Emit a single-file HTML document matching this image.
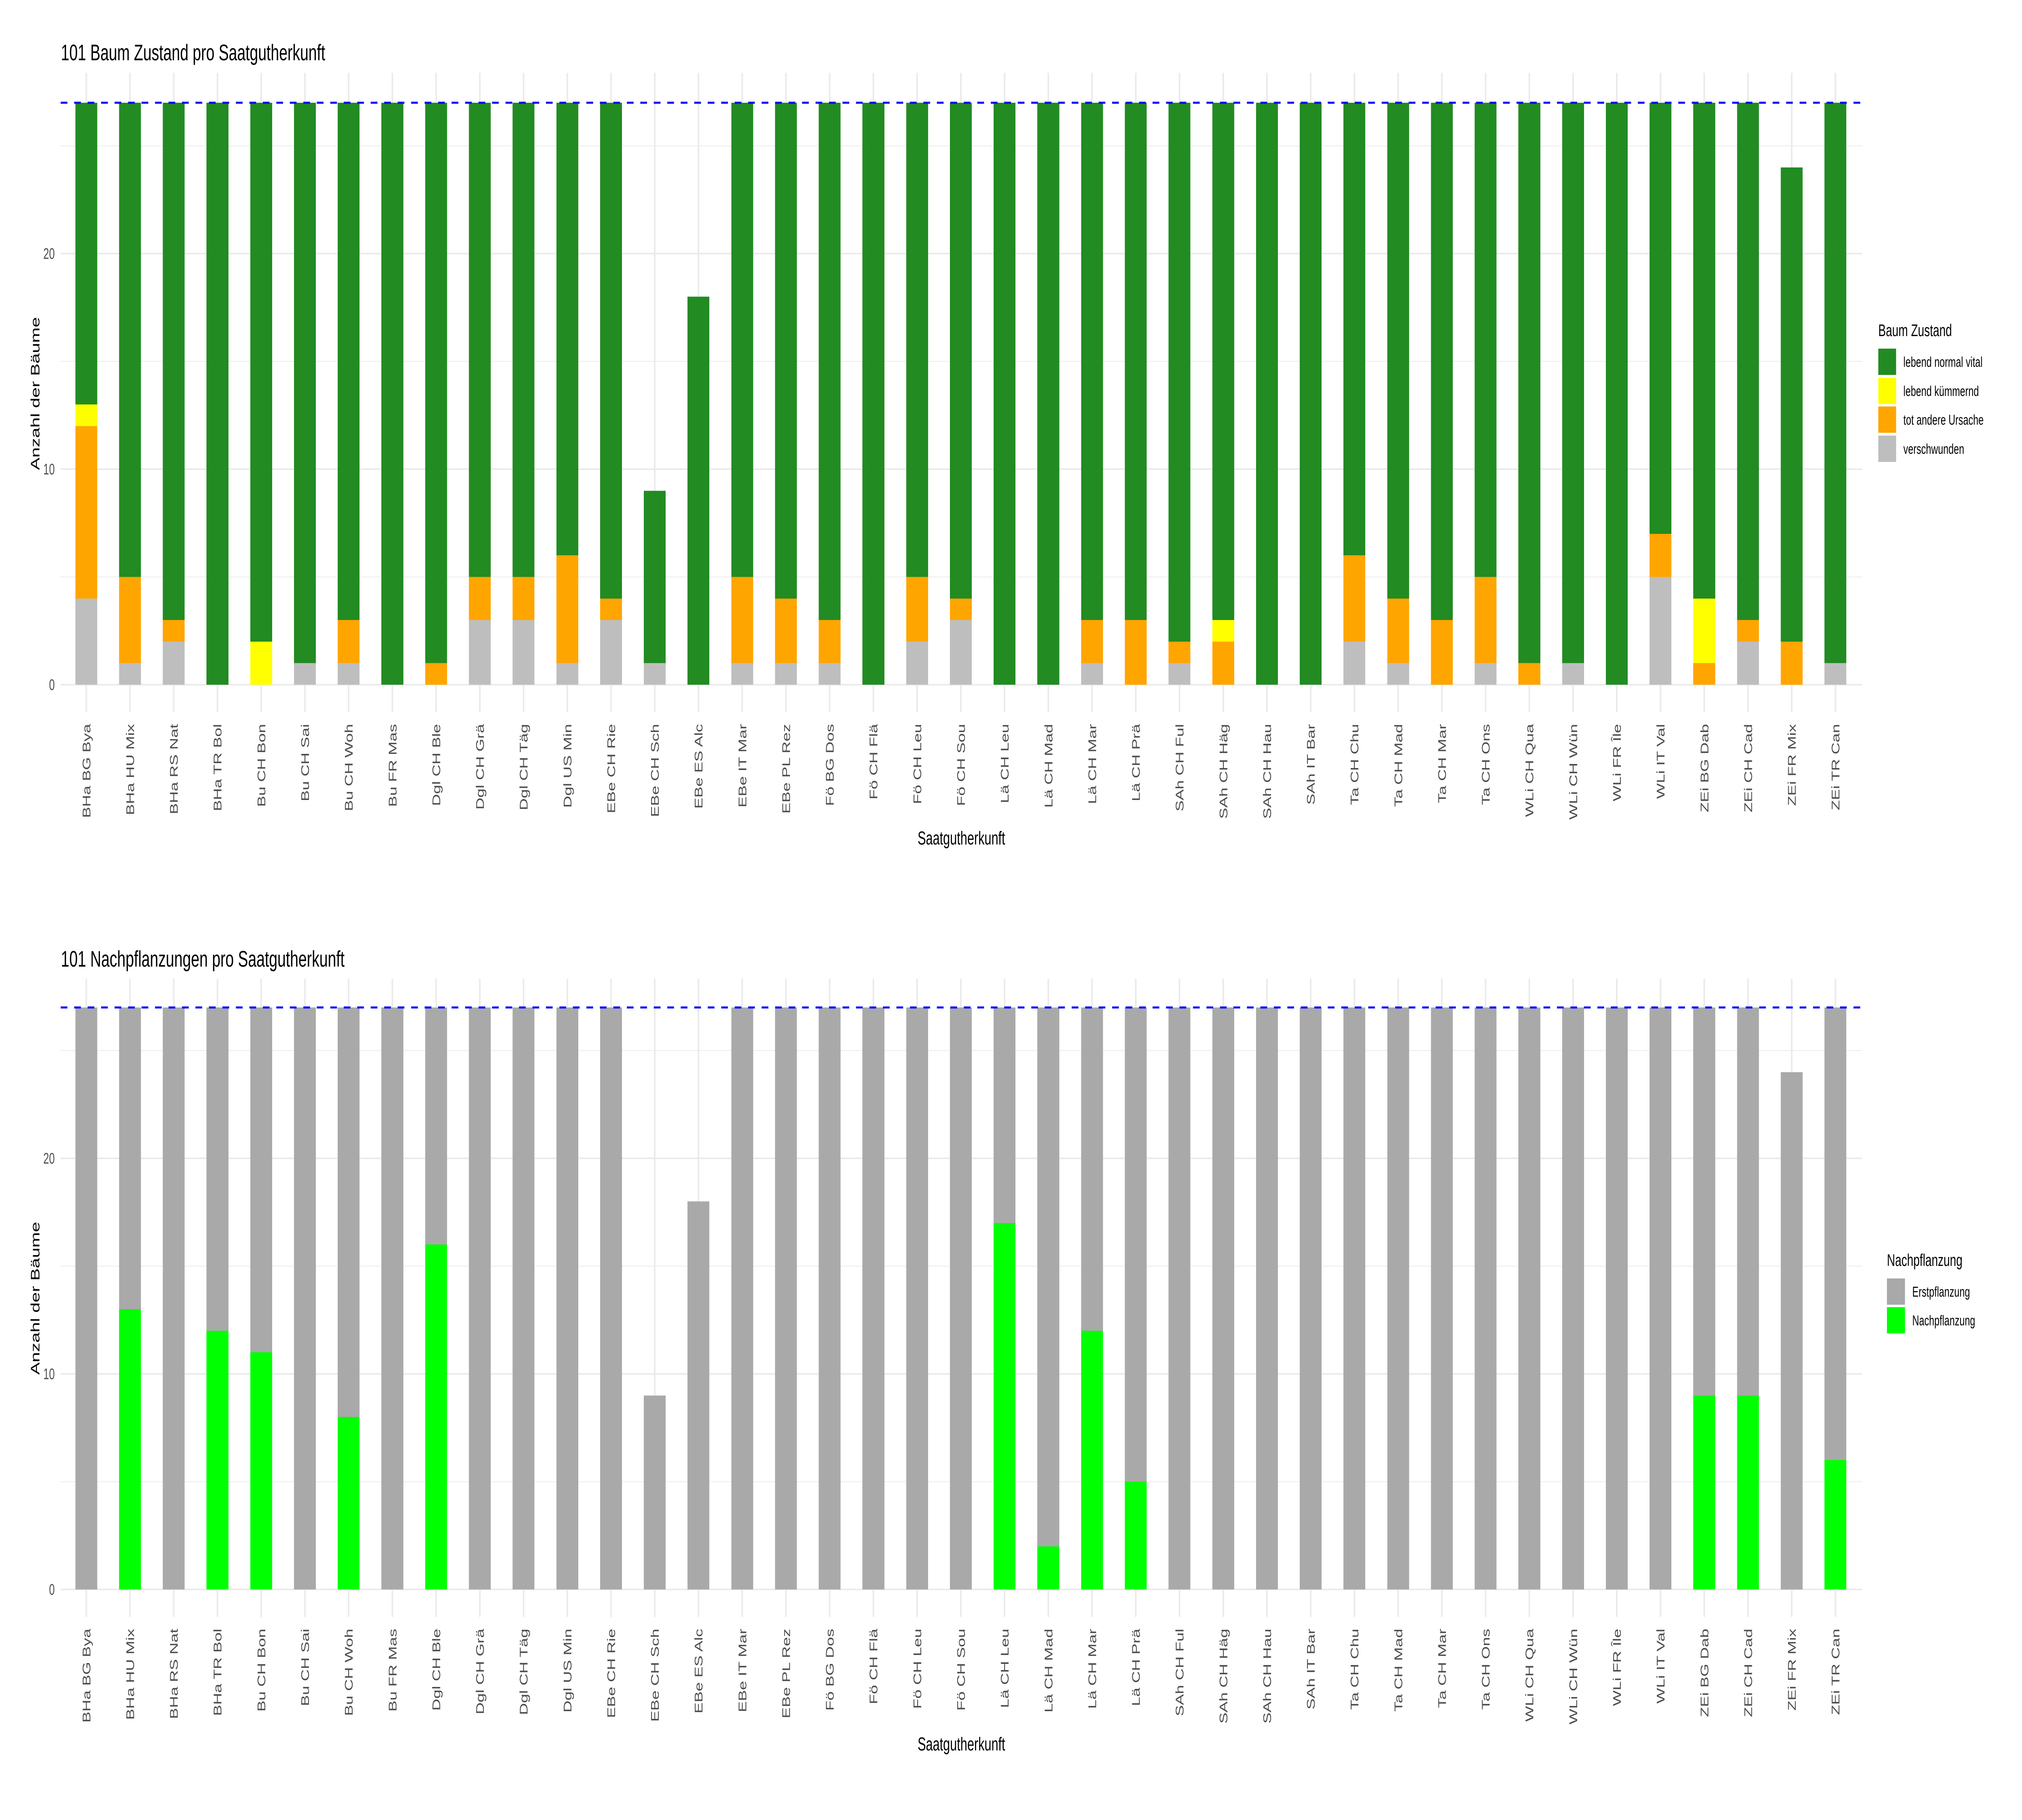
<!DOCTYPE html>
<html><head><meta charset="utf-8"><style>
html,body{margin:0;padding:0;background:#fff;width:100%;height:100%;overflow:hidden;}
svg{display:block;width:100vw;height:100vh;font-family:"Liberation Sans",Arial,sans-serif;}
.xl{font-size:41px;fill:#4d4d4d;}
.yl{font-size:38px;fill:#4d4d4d;}
</style></head><body>
<svg viewBox="0 0 7500 4500" preserveAspectRatio="none" xmlns="http://www.w3.org/2000/svg">
<rect width="7500" height="4500" fill="#fff"/>

<!-- ================= TOP CHART ================= -->
<text x="226" y="149" font-size="56" fill="#000">101 Baum Zustand pro Saatgutherkunft</text>
<g stroke="#ebebeb">
<line x1="225" x2="6907" y1="1426.5" y2="1426.5" stroke-width="2"/>
<line x1="225" x2="6907" y1="893.5" y2="893.5" stroke-width="2"/>
<line x1="225" x2="6907" y1="360.5" y2="360.5" stroke-width="2"/>
<line x1="225" x2="6907" y1="1693" y2="1693" stroke-width="4"/>
<line x1="225" x2="6907" y1="1160" y2="1160" stroke-width="4"/>
<line x1="225" x2="6907" y1="627" y2="627" stroke-width="4"/>
</g>
<g transform="translate(320,0) scale(162.2,1)">
<path d="M0 180V1761M1 180V1761M2 180V1761M3 180V1761M4 180V1761M5 180V1761M6 180V1761M7 180V1761M8 180V1761M9 180V1761M10 180V1761M11 180V1761M12 180V1761M13 180V1761M14 180V1761M15 180V1761M16 180V1761M17 180V1761M18 180V1761M19 180V1761M20 180V1761M21 180V1761M22 180V1761M23 180V1761M24 180V1761M25 180V1761M26 180V1761M27 180V1761M28 180V1761M29 180V1761M30 180V1761M31 180V1761M32 180V1761M33 180V1761M34 180V1761M35 180V1761M36 180V1761M37 180V1761M38 180V1761M39 180V1761M40 180V1761" stroke="#ebebeb" stroke-width="4" vector-effect="non-scaling-stroke" fill="none"/>
</g>
<g transform="translate(320,1693) scale(162.2,-53.3)" shape-rendering="crispEdges">
<g fill="#228B22">
<rect x="-0.25" y="0" width="0.5" height="27"/><rect x="0.75" y="0" width="0.5" height="27"/><rect x="1.75" y="0" width="0.5" height="27"/><rect x="2.75" y="0" width="0.5" height="27"/><rect x="3.75" y="0" width="0.5" height="27"/><rect x="4.75" y="0" width="0.5" height="27"/><rect x="5.75" y="0" width="0.5" height="27"/><rect x="6.75" y="0" width="0.5" height="27"/><rect x="7.75" y="0" width="0.5" height="27"/><rect x="8.75" y="0" width="0.5" height="27"/><rect x="9.75" y="0" width="0.5" height="27"/><rect x="10.75" y="0" width="0.5" height="27"/><rect x="11.75" y="0" width="0.5" height="27"/><rect x="12.75" y="0" width="0.5" height="9"/><rect x="13.75" y="0" width="0.5" height="18"/><rect x="14.75" y="0" width="0.5" height="27"/><rect x="15.75" y="0" width="0.5" height="27"/><rect x="16.75" y="0" width="0.5" height="27"/><rect x="17.75" y="0" width="0.5" height="27"/><rect x="18.75" y="0" width="0.5" height="27"/><rect x="19.75" y="0" width="0.5" height="27"/><rect x="20.75" y="0" width="0.5" height="27"/><rect x="21.75" y="0" width="0.5" height="27"/><rect x="22.75" y="0" width="0.5" height="27"/><rect x="23.75" y="0" width="0.5" height="27"/><rect x="24.75" y="0" width="0.5" height="27"/><rect x="25.75" y="0" width="0.5" height="27"/><rect x="26.75" y="0" width="0.5" height="27"/><rect x="27.75" y="0" width="0.5" height="27"/><rect x="28.75" y="0" width="0.5" height="27"/><rect x="29.75" y="0" width="0.5" height="27"/><rect x="30.75" y="0" width="0.5" height="27"/><rect x="31.75" y="0" width="0.5" height="27"/><rect x="32.75" y="0" width="0.5" height="27"/><rect x="33.75" y="0" width="0.5" height="27"/><rect x="34.75" y="0" width="0.5" height="27"/><rect x="35.75" y="0" width="0.5" height="27"/><rect x="36.75" y="0" width="0.5" height="27"/><rect x="37.75" y="0" width="0.5" height="27"/><rect x="38.75" y="0" width="0.5" height="24"/><rect x="39.75" y="0" width="0.5" height="27"/>
</g>
<g fill="#FFFF00">
<rect x="-0.25" y="12" width="0.5" height="1"/><rect x="3.75" y="0" width="0.5" height="2"/><rect x="25.75" y="2" width="0.5" height="1"/><rect x="36.75" y="1" width="0.5" height="3"/>
</g>
<g fill="#FFA500">
<rect x="-0.25" y="4" width="0.5" height="8"/><rect x="0.75" y="1" width="0.5" height="4"/><rect x="1.75" y="2" width="0.5" height="1"/><rect x="5.75" y="1" width="0.5" height="2"/><rect x="7.75" y="0" width="0.5" height="1"/><rect x="8.75" y="3" width="0.5" height="2"/><rect x="9.75" y="3" width="0.5" height="2"/><rect x="10.75" y="1" width="0.5" height="5"/><rect x="11.75" y="3" width="0.5" height="1"/><rect x="14.75" y="1" width="0.5" height="4"/><rect x="15.75" y="1" width="0.5" height="3"/><rect x="16.75" y="1" width="0.5" height="2"/><rect x="18.75" y="2" width="0.5" height="3"/><rect x="19.75" y="3" width="0.5" height="1"/><rect x="22.75" y="1" width="0.5" height="2"/><rect x="23.75" y="0" width="0.5" height="3"/><rect x="24.75" y="1" width="0.5" height="1"/><rect x="25.75" y="0" width="0.5" height="2"/><rect x="28.75" y="2" width="0.5" height="4"/><rect x="29.75" y="1" width="0.5" height="3"/><rect x="30.75" y="0" width="0.5" height="3"/><rect x="31.75" y="1" width="0.5" height="4"/><rect x="32.75" y="0" width="0.5" height="1"/><rect x="35.75" y="5" width="0.5" height="2"/><rect x="36.75" y="0" width="0.5" height="1"/><rect x="37.75" y="2" width="0.5" height="1"/><rect x="38.75" y="0" width="0.5" height="2"/>
</g>
<g fill="#BEBEBE">
<rect x="-0.25" y="0" width="0.5" height="4"/><rect x="0.75" y="0" width="0.5" height="1"/><rect x="1.75" y="0" width="0.5" height="2"/><rect x="4.75" y="0" width="0.5" height="1"/><rect x="5.75" y="0" width="0.5" height="1"/><rect x="8.75" y="0" width="0.5" height="3"/><rect x="9.75" y="0" width="0.5" height="3"/><rect x="10.75" y="0" width="0.5" height="1"/><rect x="11.75" y="0" width="0.5" height="3"/><rect x="12.75" y="0" width="0.5" height="1"/><rect x="14.75" y="0" width="0.5" height="1"/><rect x="15.75" y="0" width="0.5" height="1"/><rect x="16.75" y="0" width="0.5" height="1"/><rect x="18.75" y="0" width="0.5" height="2"/><rect x="19.75" y="0" width="0.5" height="3"/><rect x="22.75" y="0" width="0.5" height="1"/><rect x="24.75" y="0" width="0.5" height="1"/><rect x="28.75" y="0" width="0.5" height="2"/><rect x="29.75" y="0" width="0.5" height="1"/><rect x="31.75" y="0" width="0.5" height="1"/><rect x="33.75" y="0" width="0.5" height="1"/><rect x="35.75" y="0" width="0.5" height="5"/><rect x="37.75" y="0" width="0.5" height="2"/><rect x="39.75" y="0" width="0.5" height="1"/>
</g>
</g>
<line x1="225" x2="6907" y1="254" y2="254" stroke="#0000FF" stroke-width="5" stroke-dasharray="25 25"/>
<g class="yl" text-anchor="end">
<text x="203" y="1706">0</text><text x="203" y="1173">10</text><text x="203" y="640">20</text>
</g>
<text transform="translate(130,973) rotate(-90)" text-anchor="middle" dy="0.35em" font-size="46" fill="#000">Anzahl der Bäume</text>
<text x="3566" y="2088" text-anchor="middle" font-size="46" fill="#000">Saatgutherkunft</text>
<g class="xl" text-anchor="end">
<text transform="translate(335,1790) rotate(-90)">BHa BG Bya</text>
<text transform="translate(497.2,1790) rotate(-90)">BHa HU Mix</text>
<text transform="translate(659.4,1790) rotate(-90)">BHa RS Nat</text>
<text transform="translate(821.6,1790) rotate(-90)">BHa TR Bol</text>
<text transform="translate(983.8,1790) rotate(-90)">Bu CH Bon</text>
<text transform="translate(1146,1790) rotate(-90)">Bu CH Sai</text>
<text transform="translate(1308.2,1790) rotate(-90)">Bu CH Woh</text>
<text transform="translate(1470.4,1790) rotate(-90)">Bu FR Mas</text>
<text transform="translate(1632.6,1790) rotate(-90)">Dgl CH Ble</text>
<text transform="translate(1794.8,1790) rotate(-90)">Dgl CH Grä</text>
<text transform="translate(1957,1790) rotate(-90)">Dgl CH Täg</text>
<text transform="translate(2119.2,1790) rotate(-90)">Dgl US Min</text>
<text transform="translate(2281.4,1790) rotate(-90)">EBe CH Rie</text>
<text transform="translate(2443.6,1790) rotate(-90)">EBe CH Sch</text>
<text transform="translate(2605.8,1790) rotate(-90)">EBe ES Alc</text>
<text transform="translate(2768,1790) rotate(-90)">EBe IT Mar</text>
<text transform="translate(2930.2,1790) rotate(-90)">EBe PL Rez</text>
<text transform="translate(3092.4,1790) rotate(-90)">Fö BG Dos</text>
<text transform="translate(3254.6,1790) rotate(-90)">Fö CH Flä</text>
<text transform="translate(3416.8,1790) rotate(-90)">Fö CH Leu</text>
<text transform="translate(3579,1790) rotate(-90)">Fö CH Sou</text>
<text transform="translate(3741.2,1790) rotate(-90)">Lä CH Leu</text>
<text transform="translate(3903.4,1790) rotate(-90)">Lä CH Mad</text>
<text transform="translate(4065.6,1790) rotate(-90)">Lä CH Mar</text>
<text transform="translate(4227.8,1790) rotate(-90)">Lä CH Prä</text>
<text transform="translate(4390,1790) rotate(-90)">SAh CH Ful</text>
<text transform="translate(4552.2,1790) rotate(-90)">SAh CH Häg</text>
<text transform="translate(4714.4,1790) rotate(-90)">SAh CH Hau</text>
<text transform="translate(4876.6,1790) rotate(-90)">SAh IT Bar</text>
<text transform="translate(5038.8,1790) rotate(-90)">Ta CH Chu</text>
<text transform="translate(5201,1790) rotate(-90)">Ta CH Mad</text>
<text transform="translate(5363.2,1790) rotate(-90)">Ta CH Mar</text>
<text transform="translate(5525.4,1790) rotate(-90)">Ta CH Ons</text>
<text transform="translate(5687.6,1790) rotate(-90)">WLi CH Qua</text>
<text transform="translate(5849.8,1790) rotate(-90)">WLi CH Wün</text>
<text transform="translate(6012,1790) rotate(-90)">WLi FR Île</text>
<text transform="translate(6174.2,1790) rotate(-90)">WLi IT Val</text>
<text transform="translate(6336.4,1790) rotate(-90)">ZEi BG Dab</text>
<text transform="translate(6498.6,1790) rotate(-90)">ZEi CH Cad</text>
<text transform="translate(6660.8,1790) rotate(-90)">ZEi FR Mix</text>
<text transform="translate(6823,1790) rotate(-90)">ZEi TR Can</text>
</g>
<text x="6967" y="831" font-size="42" fill="#000">Baum Zustand</text>
<rect x="6967" y="862" width="66" height="65" fill="#228B22"/>
<rect x="6967" y="934" width="66" height="65" fill="#FFFF00"/>
<rect x="6967" y="1005" width="66" height="65" fill="#FFA500"/>
<rect x="6967" y="1077" width="66" height="65" fill="#BEBEBE"/>
<g font-size="35" fill="#000">
<text x="7060" y="907">lebend normal vital</text>
<text x="7060" y="979">lebend kümmernd</text>
<text x="7060" y="1050">tot andere Ursache</text>
<text x="7060" y="1122">verschwunden</text>
</g>

<!-- ================= BOTTOM CHART ================= -->
<text x="226" y="2390" font-size="56" fill="#000">101 Nachpflanzungen pro Saatgutherkunft</text>
<g stroke="#ebebeb">
<line x1="225" x2="6907" y1="3663.5" y2="3663.5" stroke-width="2"/>
<line x1="225" x2="6907" y1="3130.5" y2="3130.5" stroke-width="2"/>
<line x1="225" x2="6907" y1="2597.5" y2="2597.5" stroke-width="2"/>
<line x1="225" x2="6907" y1="3930" y2="3930" stroke-width="4"/>
<line x1="225" x2="6907" y1="3397" y2="3397" stroke-width="4"/>
<line x1="225" x2="6907" y1="2864" y2="2864" stroke-width="4"/>
</g>
<g transform="translate(320,0) scale(162.2,1)">
<path d="M0 2420V3998M1 2420V3998M2 2420V3998M3 2420V3998M4 2420V3998M5 2420V3998M6 2420V3998M7 2420V3998M8 2420V3998M9 2420V3998M10 2420V3998M11 2420V3998M12 2420V3998M13 2420V3998M14 2420V3998M15 2420V3998M16 2420V3998M17 2420V3998M18 2420V3998M19 2420V3998M20 2420V3998M21 2420V3998M22 2420V3998M23 2420V3998M24 2420V3998M25 2420V3998M26 2420V3998M27 2420V3998M28 2420V3998M29 2420V3998M30 2420V3998M31 2420V3998M32 2420V3998M33 2420V3998M34 2420V3998M35 2420V3998M36 2420V3998M37 2420V3998M38 2420V3998M39 2420V3998M40 2420V3998" stroke="#ebebeb" stroke-width="4" vector-effect="non-scaling-stroke" fill="none"/>
</g>
<g transform="translate(320,3930) scale(162.2,-53.3)" shape-rendering="crispEdges">
<g fill="#A9A9A9">
<rect x="-0.25" y="0" width="0.5" height="27"/><rect x="0.75" y="0" width="0.5" height="27"/><rect x="1.75" y="0" width="0.5" height="27"/><rect x="2.75" y="0" width="0.5" height="27"/><rect x="3.75" y="0" width="0.5" height="27"/><rect x="4.75" y="0" width="0.5" height="27"/><rect x="5.75" y="0" width="0.5" height="27"/><rect x="6.75" y="0" width="0.5" height="27"/><rect x="7.75" y="0" width="0.5" height="27"/><rect x="8.75" y="0" width="0.5" height="27"/><rect x="9.75" y="0" width="0.5" height="27"/><rect x="10.75" y="0" width="0.5" height="27"/><rect x="11.75" y="0" width="0.5" height="27"/><rect x="12.75" y="0" width="0.5" height="9"/><rect x="13.75" y="0" width="0.5" height="18"/><rect x="14.75" y="0" width="0.5" height="27"/><rect x="15.75" y="0" width="0.5" height="27"/><rect x="16.75" y="0" width="0.5" height="27"/><rect x="17.75" y="0" width="0.5" height="27"/><rect x="18.75" y="0" width="0.5" height="27"/><rect x="19.75" y="0" width="0.5" height="27"/><rect x="20.75" y="0" width="0.5" height="27"/><rect x="21.75" y="0" width="0.5" height="27"/><rect x="22.75" y="0" width="0.5" height="27"/><rect x="23.75" y="0" width="0.5" height="27"/><rect x="24.75" y="0" width="0.5" height="27"/><rect x="25.75" y="0" width="0.5" height="27"/><rect x="26.75" y="0" width="0.5" height="27"/><rect x="27.75" y="0" width="0.5" height="27"/><rect x="28.75" y="0" width="0.5" height="27"/><rect x="29.75" y="0" width="0.5" height="27"/><rect x="30.75" y="0" width="0.5" height="27"/><rect x="31.75" y="0" width="0.5" height="27"/><rect x="32.75" y="0" width="0.5" height="27"/><rect x="33.75" y="0" width="0.5" height="27"/><rect x="34.75" y="0" width="0.5" height="27"/><rect x="35.75" y="0" width="0.5" height="27"/><rect x="36.75" y="0" width="0.5" height="27"/><rect x="37.75" y="0" width="0.5" height="27"/><rect x="38.75" y="0" width="0.5" height="24"/><rect x="39.75" y="0" width="0.5" height="27"/>
</g>
<g fill="#00FF00">
<rect x="0.75" y="0" width="0.5" height="13"/><rect x="2.75" y="0" width="0.5" height="12"/><rect x="3.75" y="0" width="0.5" height="11"/><rect x="5.75" y="0" width="0.5" height="8"/><rect x="7.75" y="0" width="0.5" height="16"/><rect x="20.75" y="0" width="0.5" height="17"/><rect x="21.75" y="0" width="0.5" height="2"/><rect x="22.75" y="0" width="0.5" height="12"/><rect x="23.75" y="0" width="0.5" height="5"/><rect x="36.75" y="0" width="0.5" height="9"/><rect x="37.75" y="0" width="0.5" height="9"/><rect x="39.75" y="0" width="0.5" height="6"/>
</g>
</g>
<line x1="225" x2="6907" y1="2491" y2="2491" stroke="#0000FF" stroke-width="5" stroke-dasharray="25 25"/>
<g class="yl" text-anchor="end">
<text x="203" y="3943">0</text><text x="203" y="3410">10</text><text x="203" y="2877">20</text>
</g>
<text transform="translate(130,3210) rotate(-90)" text-anchor="middle" dy="0.35em" font-size="46" fill="#000">Anzahl der Bäume</text>
<text x="3566" y="4328" text-anchor="middle" font-size="46" fill="#000">Saatgutherkunft</text>
<g class="xl" text-anchor="end">
<text transform="translate(335,4027) rotate(-90)">BHa BG Bya</text>
<text transform="translate(497.2,4027) rotate(-90)">BHa HU Mix</text>
<text transform="translate(659.4,4027) rotate(-90)">BHa RS Nat</text>
<text transform="translate(821.6,4027) rotate(-90)">BHa TR Bol</text>
<text transform="translate(983.8,4027) rotate(-90)">Bu CH Bon</text>
<text transform="translate(1146,4027) rotate(-90)">Bu CH Sai</text>
<text transform="translate(1308.2,4027) rotate(-90)">Bu CH Woh</text>
<text transform="translate(1470.4,4027) rotate(-90)">Bu FR Mas</text>
<text transform="translate(1632.6,4027) rotate(-90)">Dgl CH Ble</text>
<text transform="translate(1794.8,4027) rotate(-90)">Dgl CH Grä</text>
<text transform="translate(1957,4027) rotate(-90)">Dgl CH Täg</text>
<text transform="translate(2119.2,4027) rotate(-90)">Dgl US Min</text>
<text transform="translate(2281.4,4027) rotate(-90)">EBe CH Rie</text>
<text transform="translate(2443.6,4027) rotate(-90)">EBe CH Sch</text>
<text transform="translate(2605.8,4027) rotate(-90)">EBe ES Alc</text>
<text transform="translate(2768,4027) rotate(-90)">EBe IT Mar</text>
<text transform="translate(2930.2,4027) rotate(-90)">EBe PL Rez</text>
<text transform="translate(3092.4,4027) rotate(-90)">Fö BG Dos</text>
<text transform="translate(3254.6,4027) rotate(-90)">Fö CH Flä</text>
<text transform="translate(3416.8,4027) rotate(-90)">Fö CH Leu</text>
<text transform="translate(3579,4027) rotate(-90)">Fö CH Sou</text>
<text transform="translate(3741.2,4027) rotate(-90)">Lä CH Leu</text>
<text transform="translate(3903.4,4027) rotate(-90)">Lä CH Mad</text>
<text transform="translate(4065.6,4027) rotate(-90)">Lä CH Mar</text>
<text transform="translate(4227.8,4027) rotate(-90)">Lä CH Prä</text>
<text transform="translate(4390,4027) rotate(-90)">SAh CH Ful</text>
<text transform="translate(4552.2,4027) rotate(-90)">SAh CH Häg</text>
<text transform="translate(4714.4,4027) rotate(-90)">SAh CH Hau</text>
<text transform="translate(4876.6,4027) rotate(-90)">SAh IT Bar</text>
<text transform="translate(5038.8,4027) rotate(-90)">Ta CH Chu</text>
<text transform="translate(5201,4027) rotate(-90)">Ta CH Mad</text>
<text transform="translate(5363.2,4027) rotate(-90)">Ta CH Mar</text>
<text transform="translate(5525.4,4027) rotate(-90)">Ta CH Ons</text>
<text transform="translate(5687.6,4027) rotate(-90)">WLi CH Qua</text>
<text transform="translate(5849.8,4027) rotate(-90)">WLi CH Wün</text>
<text transform="translate(6012,4027) rotate(-90)">WLi FR Île</text>
<text transform="translate(6174.2,4027) rotate(-90)">WLi IT Val</text>
<text transform="translate(6336.4,4027) rotate(-90)">ZEi BG Dab</text>
<text transform="translate(6498.6,4027) rotate(-90)">ZEi CH Cad</text>
<text transform="translate(6660.8,4027) rotate(-90)">ZEi FR Mix</text>
<text transform="translate(6823,4027) rotate(-90)">ZEi TR Can</text>
</g>
<text x="6999" y="3130" font-size="42" fill="#000">Nachpflanzung</text>
<rect x="6999" y="3161" width="67" height="65" fill="#A9A9A9"/>
<rect x="6999" y="3232" width="67" height="65" fill="#00FF00"/>
<g font-size="35" fill="#000">
<text x="7093" y="3206">Erstpflanzung</text>
<text x="7093" y="3277">Nachpflanzung</text>
</g>
</svg>
</body></html>
